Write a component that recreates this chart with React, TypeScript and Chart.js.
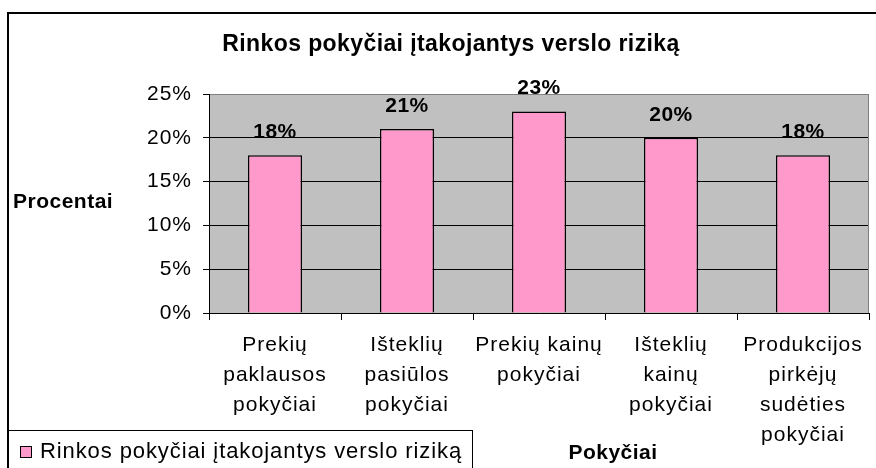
import React, { useEffect, useRef } from 'react';
import { Chart, registerables } from 'chart.js';

Chart.register(...registerables);

const chartTitle = 'Rinkos pokyčiai įtakojantys verslo riziką';
const seriesLabel = 'Rinkos pokyčiai įtakojantys verslo riziką';
const yAxisTitle = 'Procentai';
const xAxisTitle = 'Pokyčiai';

const categories: string[][] = [
  ['Prekių', 'paklausos', 'pokyčiai'],
  ['Išteklių', 'pasiūlos', 'pokyčiai'],
  ['Prekių kainų', 'pokyčiai'],
  ['Išteklių', 'kainų', 'pokyčiai'],
  ['Produkcijos', 'pirkėjų', 'sudėties', 'pokyčiai'],
];

const values: number[] = [18, 21, 23, 20, 18];

const yMin = 0;
const yMax = 25;
const yStep = 5;

const FONT = "'Liberation Sans', Arial, sans-serif";
const BAR_COLOR = '#FF99CC';
const PLOT_BG = '#C0C0C0';

function setSpacing(ctx: CanvasRenderingContext2D, px: number) {
  (ctx as any).letterSpacing = px + 'px';
}

const decorPlugin = {
  id: 'decor',
  beforeDraw(chart: any) {
    const { ctx, chartArea } = chart;
    ctx.save();
    ctx.fillStyle = '#ffffff';
    ctx.fillRect(0, 0, chart.width, chart.height);
    ctx.fillStyle = PLOT_BG;
    ctx.fillRect(chartArea.left, chartArea.top, chartArea.right - chartArea.left, chartArea.bottom - chartArea.top);
    ctx.restore();
    setSpacing(ctx, 1);
  },
  beforeDatasetsDraw(chart: any) {
    const { ctx, chartArea } = chart;
    ctx.save();
    ctx.strokeStyle = '#808080';
    ctx.lineWidth = 1;
    ctx.beginPath();
    ctx.moveTo(chartArea.right - 0.5, chartArea.top);
    ctx.lineTo(chartArea.right - 0.5, chartArea.bottom);
    ctx.stroke();
    ctx.restore();
  },
  afterDatasetsDraw(chart: any) {
    const { ctx } = chart;
    const meta = chart.getDatasetMeta(0);
    const data = chart.data.datasets[0].data as number[];
    ctx.save();
    setSpacing(ctx, 0.5);
    ctx.font = `bold 21px ${FONT}`;
    ctx.fillStyle = '#000';
    ctx.textAlign = 'center';
    ctx.textBaseline = 'middle';
    meta.data.forEach((bar: any, i: number) => {
      ctx.fillText(data[i] + '%', bar.x, bar.y - 23);
    });
    ctx.restore();
  },
  afterDraw(chart: any) {
    const { ctx, chartArea } = chart;
    ctx.save();
    ctx.fillStyle = '#000';
    // title
    setSpacing(ctx, 0.4);
    ctx.font = `bold 23px ${FONT}`;
    ctx.textAlign = 'center';
    ctx.textBaseline = 'middle';
    ctx.fillText(chartTitle, 451, 45);
    // y axis title
    setSpacing(ctx, 0.5);
    ctx.font = `bold 21px ${FONT}`;
    ctx.textAlign = 'left';
    ctx.fillText(yAxisTitle, 13, (chartArea.top + chartArea.bottom) / 2 - 1);
    // x axis title
    ctx.textAlign = 'center';
    ctx.fillText(xAxisTitle, 613, 453);
    // legend box
    const ds = chart.data.datasets[0];
    ctx.strokeStyle = '#000';
    ctx.lineWidth = 1;
    ctx.strokeRect(8.5, 430.5, 464, 60);
    ctx.fillStyle = ds.backgroundColor;
    ctx.fillRect(20, 446, 12, 12);
    ctx.strokeRect(20.5, 446.5, 11, 11);
    ctx.fillStyle = '#000';
    setSpacing(ctx, 0.9);
    ctx.font = `22px ${FONT}`;
    ctx.textAlign = 'left';
    ctx.fillText(ds.label, 40, 452);
    // outer frame
    ctx.fillRect(7, 12, chart.width - 7, 2);
    ctx.fillRect(7, 12, 2, chart.height - 12);
    ctx.restore();
  },
};

export default function App() {
  const canvasRef = useRef<HTMLCanvasElement | null>(null);

  useEffect(() => {
    const canvas = canvasRef.current;
    if (!canvas) return;
    const chart = new Chart(canvas, {
      type: 'bar',
      data: {
        labels: categories,
        datasets: [
          {
            label: seriesLabel,
            data: values,
            backgroundColor: BAR_COLOR,
            borderColor: '#000',
            borderWidth: 1.5,
            barPercentage: 0.41,
            categoryPercentage: 1,
          },
        ],
      },
      options: {
        responsive: false,
        animation: false,
        devicePixelRatio: 1,
        layout: { padding: { left: 0, right: 7, top: 94, bottom: 0 } },
        plugins: {
          legend: { display: false },
          title: { display: false },
          tooltip: { enabled: false },
        },
        scales: {
          x: {
            grid: {
              display: true,
              drawOnChartArea: false,
              drawTicks: true,
              tickLength: 7,
              color: '#000',
              offset: true,
            },
            border: { color: '#000', width: 1 },
            ticks: {
              color: '#000',
              font: { family: FONT, size: 21, lineHeight: 30 / 21 },
              padding: 10,
              maxRotation: 0,
              autoSkip: false,
            },
            afterFit: (s: any) => {
              s.height = 155;
            },
          },
          y: {
            min: yMin,
            max: yMax,
            ticks: {
              stepSize: yStep,
              callback: (v: any) => v + '%',
              color: '#000',
              font: { family: FONT, size: 21 },
              padding: 11,
            },
            grid: {
              color: (c: any) => (c.tick && c.tick.value === yMax ? '#808080' : '#000'),
              tickColor: '#000',
              tickLength: 6,
            },
            border: { color: '#000', width: 1 },
            afterFit: (s: any) => {
              s.width = 209;
            },
          },
        },
      },
      plugins: [decorPlugin],
    });
    return () => chart.destroy();
  }, []);

  return (
    <div style={{ position: 'absolute', left: 0, top: 0, width: 876, height: 468, background: '#fff' }}>
      <canvas ref={canvasRef} width={876} height={468} style={{ display: 'block', width: 876, height: 468 }} />
    </div>
  );
}
